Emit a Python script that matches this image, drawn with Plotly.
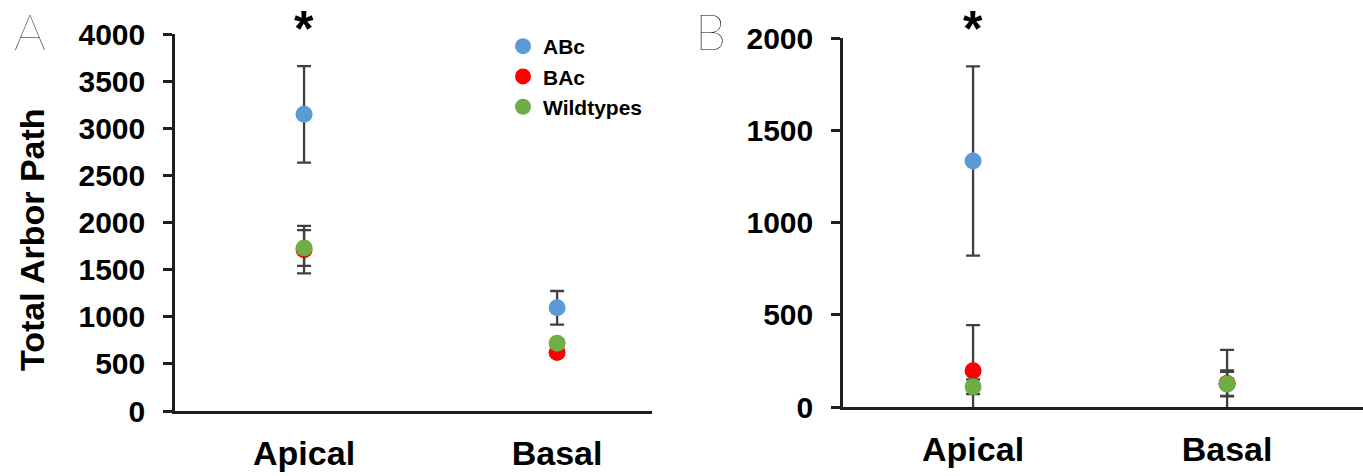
import plotly.graph_objects as go

categories = ["Apical", "Basal"]
cat_pos = [0, 1]
series = ["ABc", "BAc", "Wildtypes"]
colors = {"ABc": "#5B9BD5", "BAc": "#FF0000", "Wildtypes": "#70AD47"}

# Panel A: Total Arbor Path
a_values = {"ABc": [3148, 1095], "BAc": [1712, 620], "Wildtypes": [1730, 720]}
a_errors = {"ABc": [512, 178], "BAc": [252, 35], "Wildtypes": [190, 40]}
# Panel B
b_values = {"ABc": [1333, 125], "BAc": [197, 128], "Wildtypes": [110, 125]}
b_errors = {"ABc": [513, 185], "BAc": [247, 70], "Wildtypes": [40, 65]}

a_yticks = [0, 500, 1000, 1500, 2000, 2500, 3000, 3500, 4000]
b_yticks = [0, 500, 1000, 1500, 2000]

W, H = 1363, 476
FONT = "Arial, Liberation Sans, sans-serif"
AXC = "#1e1e1e"
ERRC = "#404040"

fig = go.Figure()

for s in series:
    fig.add_trace(go.Scatter(
        x=cat_pos, y=a_values[s], mode="markers", name=s,
        marker=dict(color=colors[s], size=17),
        error_y=dict(type="data", array=a_errors[s], color=ERRC, thickness=2.3, width=7),
        xaxis="x", yaxis="y", cliponaxis=True, showlegend=True,
    ))
for s in series:
    fig.add_trace(go.Scatter(
        x=cat_pos, y=b_values[s], mode="markers", name=s,
        marker=dict(color=colors[s], size=17),
        error_y=dict(type="data", array=b_errors[s], color=ERRC, thickness=2.3, width=7),
        xaxis="x2", yaxis="y2", cliponaxis=True, showlegend=False,
    ))

def px_x(p):
    return p / W

def px_y(p):
    return (H - p) / H

xaxis_common = dict(
    tickmode="array", tickvals=cat_pos, ticktext=categories, ticks="",
    showline=True, linecolor=AXC, linewidth=2.5, showgrid=False, zeroline=False,
    tickfont=dict(family=FONT, size=34, color="#000", weight="bold"),
    ticklabelstandoff=10, fixedrange=True, automargin=False,
)
yaxis_common = dict(
    showline=True, linecolor=AXC, linewidth=2.5, showgrid=False, zeroline=False,
    ticks="outside", ticklen=9, tickwidth=2.5, tickcolor=AXC,
    tickfont=dict(family=FONT, size=30, color="#000", weight="bold"),
    ticklabelstandoff=12, fixedrange=True, automargin=False,
)

fig.update_layout(
    template="none",
    width=W, height=H,
    margin=dict(l=0, r=0, t=0, b=0, autoexpand=False),
    paper_bgcolor="white", plot_bgcolor="white",
    xaxis=dict(domain=[px_x(175), px_x(652)], range=[-0.51, 1.375], anchor="y", **xaxis_common),
    yaxis=dict(domain=[px_y(411), px_y(34)], range=[0, 4000], anchor="x",
               tickmode="array", tickvals=a_yticks, ticktext=[str(v) for v in a_yticks], **yaxis_common),
    xaxis2=dict(domain=[px_x(843), 1.0], range=[-0.512, 1.535], anchor="y2", **xaxis_common),
    yaxis2=dict(domain=[px_y(407), px_y(38)], range=[0, 2000], anchor="x2",
                tickmode="array", tickvals=b_yticks, ticktext=[str(v) for v in b_yticks], **yaxis_common),
    legend=dict(
        x=px_x(503), y=px_y(26), xanchor="left", yanchor="top",
        font=dict(family=FONT, size=21, color="#000", weight="bold"),
        bgcolor="rgba(0,0,0,0)", tracegroupgap=0, itemclick=False,
    ),
    showlegend=True,
)

annotations = [
    dict(text="Total Arbor Path", textangle=-90, x=px_x(32), y=px_y(240), xref="paper", yref="paper",
         showarrow=False, font=dict(family=FONT, size=34, color="#000", weight="bold"),
         xanchor="center", yanchor="middle"),
    dict(text="A", x=px_x(30), y=px_y(31), xref="paper", yref="paper", showarrow=False,
         font=dict(family="Lato, Inter, sans-serif", size=50, color="#000", weight=200),
         xanchor="center", yanchor="middle"),
    dict(text="B", x=px_x(710), y=px_y(31), xref="paper", yref="paper", showarrow=False,
         font=dict(family="Lato, Inter, sans-serif", size=50, color="#000", weight=200),
         xanchor="center", yanchor="middle"),
    dict(text="*", x=cat_pos[0], xref="x", y=px_y(6), yref="paper", yshift=7, showarrow=False,
         font=dict(family=FONT, size=50, color="#000", weight="bold"), xanchor="center", yanchor="top"),
    dict(text="*", x=cat_pos[0], xref="x2", y=px_y(6), yref="paper", yshift=7, showarrow=False,
         font=dict(family=FONT, size=50, color="#000", weight="bold"), xanchor="center", yanchor="top"),
]
fig.update_layout(annotations=annotations)

fig.write_html("out.html")
